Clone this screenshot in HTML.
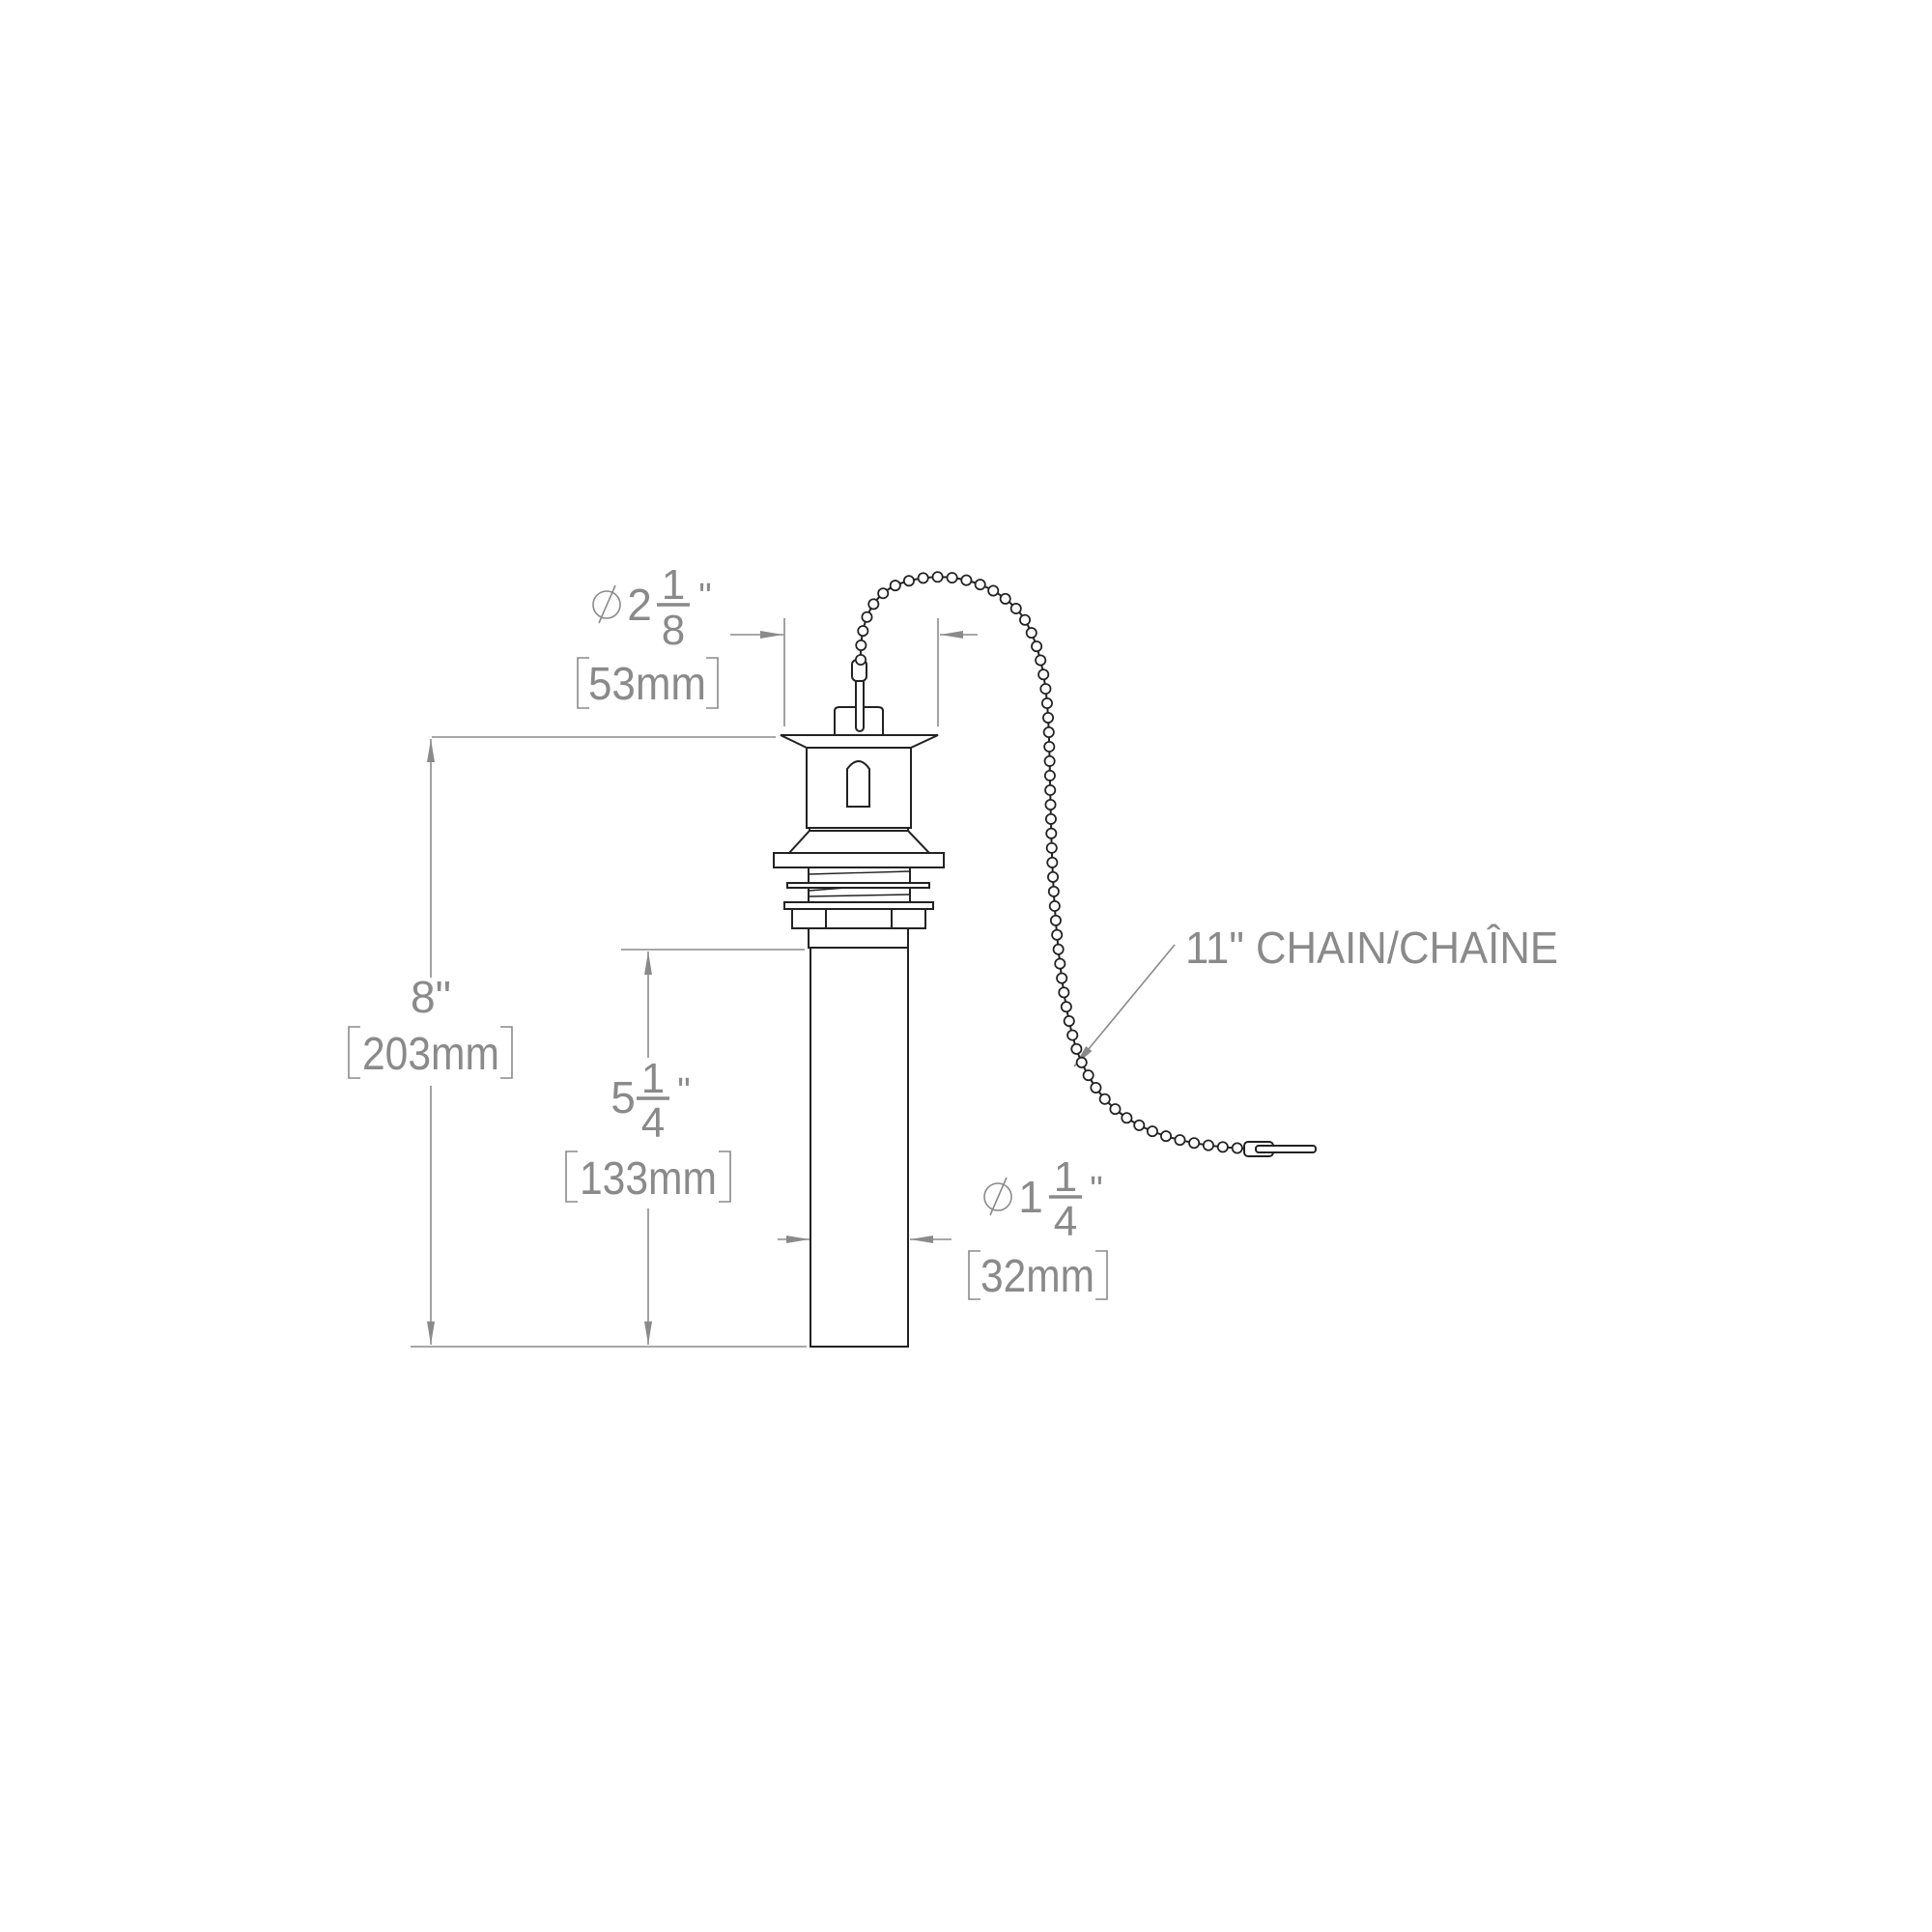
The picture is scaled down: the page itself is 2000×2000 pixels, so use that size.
<!DOCTYPE html>
<html><head><meta charset="utf-8"><style>
html,body{margin:0;padding:0;background:#fff}
svg{display:block}
text{font-family:"Liberation Sans",sans-serif;fill:#8a8a8a}
</style></head><body>
<svg width="2000" height="2000" viewBox="0 0 2000 2000" xmlns="http://www.w3.org/2000/svg">
<defs>
<marker id="ar2" viewBox="0 0 24 10" refX="24" refY="5" markerWidth="24" markerHeight="10" markerUnits="userSpaceOnUse" orient="auto"><path d="M0,1 L24,5 L0,9 z" fill="#8a8a8a"/></marker>
</defs>
<g stroke="#8a8a8a" stroke-width="1.6" fill="none">
<line x1="447" y1="763" x2="803" y2="763"/>
<line x1="425" y1="1394" x2="835" y2="1394"/>
<line x1="643" y1="983" x2="833" y2="983"/>
<line x1="812" y1="640" x2="812" y2="752"/>
<line x1="971" y1="640" x2="971" y2="752"/>
<line x1="446" y1="1012" x2="446" y2="765" marker-end="url(#ar2)"/>
<line x1="446" y1="1124" x2="446" y2="1392" marker-end="url(#ar2)"/>
<line x1="671" y1="1095" x2="671" y2="985" marker-end="url(#ar2)"/>
<line x1="671" y1="1251" x2="671" y2="1392" marker-end="url(#ar2)"/>
<line x1="756" y1="657" x2="811" y2="657" marker-end="url(#ar2)"/>
<line x1="1012" y1="657" x2="973" y2="657" marker-end="url(#ar2)"/>
<line x1="805" y1="1283" x2="838" y2="1283" marker-end="url(#ar2)"/>
<line x1="985" y1="1283" x2="942" y2="1283" marker-end="url(#ar2)"/>
<line x1="1216" y1="978" x2="1112" y2="1104" marker-end="url(#ar2)"/>
<path d="M373,1063 H361 V1116 H373 M518,1063 H530 V1116 H518"/>
<path d="M598,1192 H586 V1244 H598 M744,1192 H756 V1244 H744"/>
<path d="M1015,1295 H1003 V1345 H1015 M1134,1295 H1146 V1345 H1134"/>
<path d="M610,681 H598 V733 H610 M731,681 H743 V733 H731"/>
<circle cx="1033" cy="1239" r="14"/><line x1="1025" y1="1258" x2="1042" y2="1219"/>
<circle cx="628" cy="626" r="14"/><line x1="620" y1="645" x2="637" y2="606"/>
<line x1="659" y1="1137" x2="693" y2="1137" stroke-width="3.5"/>
<line x1="1086" y1="1239" x2="1120" y2="1239" stroke-width="3.5"/>
<line x1="680" y1="626" x2="714" y2="626" stroke-width="3.5"/>
</g>
<text x="446" y="1048" font-size="46" text-anchor="middle">8"</text>
<text x="446" y="1107" font-size="48" text-anchor="middle" textLength="142" lengthAdjust="spacingAndGlyphs">203mm</text>
<text x="645" y="1152" font-size="46" text-anchor="middle">5</text>
<text x="676" y="1131" font-size="44" text-anchor="middle">1</text>
<text x="676" y="1177" font-size="44" text-anchor="middle">4</text>
<text x="708" y="1142" font-size="38" text-anchor="middle">"</text>
<text x="671" y="1236" font-size="48" text-anchor="middle" textLength="142" lengthAdjust="spacingAndGlyphs">133mm</text>
<text x="1067" y="1255" font-size="46" text-anchor="middle">1</text>
<text x="1103" y="1233" font-size="44" text-anchor="middle">1</text>
<text x="1103" y="1279" font-size="44" text-anchor="middle">4</text>
<text x="1135" y="1244" font-size="38" text-anchor="middle">"</text>
<text x="1074" y="1337" font-size="48" text-anchor="middle" textLength="118" lengthAdjust="spacingAndGlyphs">32mm</text>
<text x="662" y="642" font-size="46" text-anchor="middle">2</text>
<text x="697" y="620" font-size="44" text-anchor="middle">1</text>
<text x="697" y="667" font-size="44" text-anchor="middle">8</text>
<text x="730" y="630" font-size="38" text-anchor="middle">"</text>
<text x="670" y="724" font-size="48" text-anchor="middle" textLength="122" lengthAdjust="spacingAndGlyphs">53mm</text>
<text x="1227" y="997" font-size="46" textLength="386" lengthAdjust="spacingAndGlyphs">11" CHAIN/CHAÎNE</text>

<g stroke="#222" stroke-width="2" fill="#fff">
<path d="M864,760 V736 Q864,732 869,732 H909 Q914,732 914,736 V760"/>
<path d="M808,761 H971 L943,774 H835 Z"/>
<rect x="835" y="774" width="108" height="83"/>
<path d="M877,796 Q889,780 900,796 V835 H877 Z"/>
<path d="M838,857 H940 V860 H838 Z"/>
<path d="M838,860 H940 L962,883 H817 Z"/>
<rect x="801" y="883" width="176" height="15"/>
<rect x="837" y="898" width="105" height="36"/>
<path d="M837,905 L942,902 M837,922 L942,914 M837,928 L942,926" fill="none" stroke-width="1.4"/>
<rect x="815" y="914" width="147" height="5"/>
<rect x="812" y="934" width="154" height="7"/>
<rect x="820" y="941" width="138" height="20"/>
<line x1="855" y1="941" x2="855" y2="961"/><line x1="923" y1="941" x2="923" y2="961"/>
<rect x="837" y="961" width="103" height="20"/>
<rect x="839" y="981" width="101" height="413"/>
<rect x="886" y="695" width="8" height="62" rx="4"/>
<rect x="882" y="683" width="15" height="22" rx="5"/>
</g>
<path d="M891,683 C890,640 905,612 935,603 C975,590 1030,598 1060,640 C1090,690 1085,760 1088,850 C1090,950 1100,1070 1125,1110 C1150,1160 1200,1185 1290,1189" fill="none" stroke="#222" stroke-width="2"/>
<path d="M891,683 C890,640 905,612 935,603 C975,590 1030,598 1060,640 C1090,690 1085,760 1088,850 C1090,950 1100,1070 1125,1110 C1150,1160 1200,1185 1290,1189" fill="none" stroke="#222" stroke-width="12" stroke-linecap="round" stroke-dasharray="0 15"/>
<path d="M891,683 C890,640 905,612 935,603 C975,590 1030,598 1060,640 C1090,690 1085,760 1088,850 C1090,950 1100,1070 1125,1110 C1150,1160 1200,1185 1290,1189" fill="none" stroke="#fff" stroke-width="8.5" stroke-linecap="round" stroke-dasharray="0 15"/>
<g stroke="#222" stroke-width="2" fill="#fff">
<rect x="1288" y="1182" width="30" height="15" rx="4"/>
<rect x="1300" y="1186" width="62" height="7" rx="3"/>
</g>
</svg>
</body></html>
